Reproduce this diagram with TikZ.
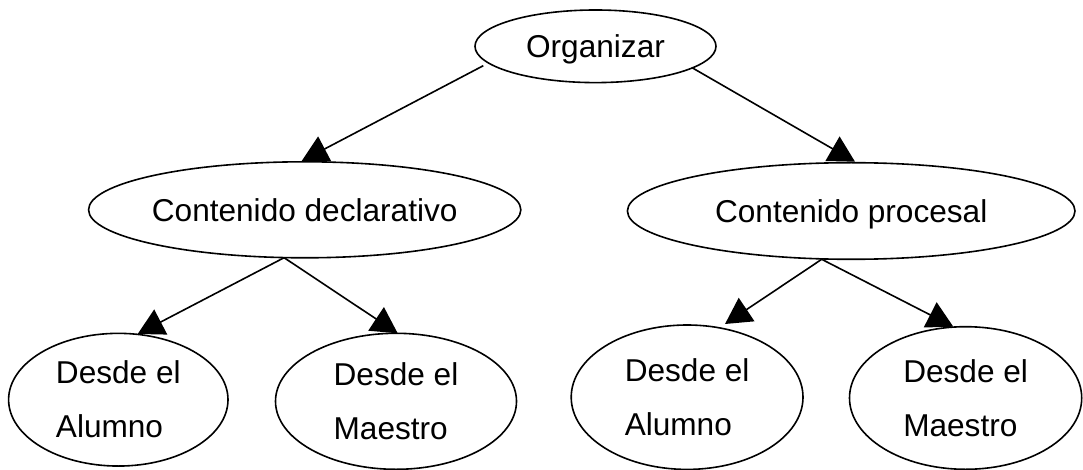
\documentclass[tikz,border=0pt]{standalone}
\usepackage{fontspec}
\setmainfont{Liberation Sans}
\usetikzlibrary{arrows.meta,shapes.geometric}
\begin{document}
\begin{tikzpicture}[x=1pt,y=-1pt,
  ell/.style={draw=black, line width=1.6pt, ellipse, inner sep=0pt, outer sep=0pt,
    font={\fontsize{31.6}{54}\selectfont}},
  oneline/.style={ell, text height=22.6pt, text depth=0pt},
  twoline/.style={ell, align=left},
  conn/.style={draw=black, line width=1.6pt, -{Triangle[length=26pt,width=28pt]}}]
\useasboundingbox (0,0) rectangle (1083,470);
\fill[white] (0,0) rectangle (1083,470);
% nodes
\node[oneline, minimum width=241pt, minimum height=72.6pt] (org) at (595.5,46.3) {Organizar};
\node[oneline, minimum width=408.5pt, minimum height=96pt] (cd) at (304.7,209.8) {Contenido declarativo};
\node[oneline, minimum width=447.6pt, minimum height=96.6pt] (cp) at (851.2,211) {Contenido procesal};
\node[twoline, minimum width=219.4pt, minimum height=132.7pt] (a1) at (118.3,399.7) {Desde el\\Alumno};
\node[twoline, minimum width=241pt, minimum height=136pt] (m1) at (396,401.3) {Desde el\\Maestro};
\node[twoline, minimum width=231.8pt, minimum height=144.4pt] (a2) at (687.1,397.2) {Desde el\\Alumno};
\node[twoline, minimum width=232.2pt, minimum height=142.6pt] (m2) at (965.6,398) {Desde el\\Maestro};
% connectors
\draw[conn] ([shift={(-112.2,19.4)}]org.center) -- ([shift={(-3,-48.8)}]cd.center);
\draw[conn] ([shift={(96.2,21.2)}]org.center) -- ([shift={(3.8,-49.3)}]cp.center);
\draw[conn] ([shift={(-20.6,47.9)}]cd.center) -- ([shift={(19.4,-65.7)}]a1.center);
\draw[conn] ([shift={(-20.6,47.9)}]cd.center) -- ([shift={(1.7,-68)}]m1.center);
\draw[conn] ([shift={(-29.5,48.3)}]cp.center) -- ([shift={(37.9,-73.2)}]a2.center);
\draw[conn] ([shift={(-29.5,48.3)}]cp.center) -- ([shift={(-12.3,-71.3)}]m2.center);
\end{tikzpicture}
\end{document}
